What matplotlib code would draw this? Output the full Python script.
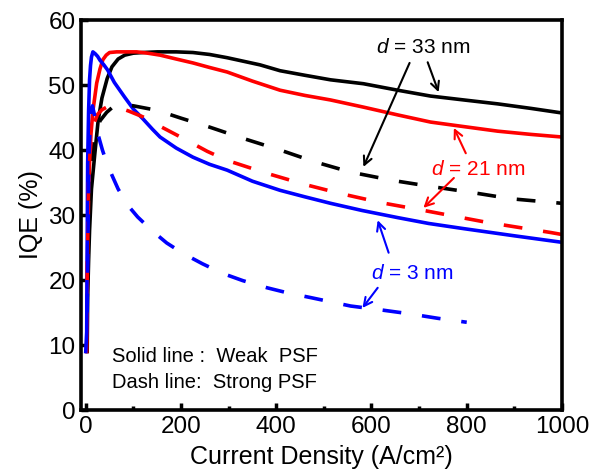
import matplotlib
matplotlib.use("Agg")
import matplotlib.pyplot as plt
from matplotlib.ticker import MultipleLocator

plt.rcParams['font.family'] = ['Liberation Sans', 'DejaVu Sans']
plt.rcParams['mathtext.fontset'] = 'custom'
plt.rcParams['mathtext.it'] = 'Liberation Sans:italic'
plt.rcParams['mathtext.rm'] = 'Liberation Sans'

# d = 33 nm, weak PSF (solid black)
x_33_weak = [3, 4, 6, 8, 12, 19, 26, 34, 45, 55, 68, 82, 100, 120, 150, 190, 225, 260, 297, 366, 408, 460,
             514, 583, 655, 724, 794, 865, 935, 1000]
y_33_weak = [9, 17.3, 23, 27.6, 34, 39.4, 44.5, 48.0, 51.0, 52.8, 54.0, 54.6, 54.9, 55.0, 55.1, 55.1, 55.0, 54.7, 54.2,
             53.1, 52.2, 51.5, 50.8, 50.2, 49.2, 48.3, 47.7, 47.1, 46.4, 45.7]

# d = 21 nm, weak PSF (solid red)
x_21_weak = [2, 4, 6, 8, 11, 15, 23, 30, 36, 43, 50, 65, 80, 107, 130, 156, 190, 225, 260, 297, 350, 408, 460,
             514, 583, 655, 724, 794, 865, 935, 1000]
y_21_weak = [9, 25, 33, 38, 42.5, 46, 50.3, 52.5, 53.9, 54.6, 55.0, 55.1, 55.1, 55.1, 54.9, 54.6, 54.0, 53.4,
             52.7, 52.0, 50.6, 49.2, 48.4, 47.7, 46.6, 45.4, 44.3, 43.6, 42.9, 42.4, 42.0]

# d = 3 nm, weak PSF (solid blue)
x_3_weak = [0, 2, 3, 4, 6, 8, 10, 12, 15, 20, 25, 30, 38, 46, 60, 82, 100, 120, 140, 156, 190, 225, 260, 297,
            350, 408, 460, 514, 580, 655, 720, 794, 900, 1000]
y_3_weak = [9, 12, 25, 37.9, 46, 50.8, 53.0, 54.3, 55.1, 54.8, 54.4, 53.8, 53.1, 52.3, 50.4, 48.1, 46.3, 44.8,
            43.2, 42.0, 40.3, 38.9, 37.8, 36.9, 35.2, 33.8, 32.8, 31.8, 30.7, 29.6, 28.7, 27.9, 26.8, 25.8]

# d = 33 nm, strong PSF (dashed black)
x_33_strong = [4, 8, 15, 22, 30, 44, 55, 67, 80, 100, 150, 200, 261, 330, 408, 480, 556, 646, 724, 808, 893, 1000]
y_33_strong = [20, 33, 40, 42.8, 44.5, 45.8, 46.5, 46.9, 47.0, 46.8, 46.1, 44.9, 43.5, 41.8, 40.0, 38.2, 36.6,
               35.3, 34.4, 33.5, 32.5, 31.8]

# d = 21 nm, strong PSF (dashed red)
x_21_strong = [3, 6, 9, 12, 18, 25, 34, 44, 56, 70, 90, 120, 160, 212, 255, 297, 381, 460, 535, 620, 710, 840,
               977, 1000]
y_21_strong = [20, 35, 39.5, 42, 44.2, 45.5, 46.2, 46.6, 46.7, 46.5, 46.0, 45.1, 43.5, 41.5, 39.8, 38.4, 36.4,
               34.7, 33.3, 31.9, 30.7, 28.9, 27.3, 27.0]

# d = 3 nm, strong PSF (dashed blue)
x_3_strong = [3, 6, 8, 10, 12, 14, 18, 25, 35, 45, 57, 68, 80, 94, 109, 139, 170, 204, 245, 288, 330, 381,
              425, 472, 556, 620, 680, 740, 800]
y_3_strong = [15, 35, 41.5, 45, 46.3, 46.8, 45.5, 42.6, 40.0, 37.8, 35.8, 34.0, 32.5, 31.0, 29.7, 27.6, 25.7,
              24.1, 22.5, 21.0, 19.9, 18.8, 18.0, 17.3, 16.0, 15.4, 14.8, 14.1, 13.5]

x_ticks = [0, 200, 400, 600, 800, 1000]
y_ticks = [0, 10, 20, 30, 40, 50, 60]

fig = plt.figure(figsize=(5.92, 4.71), dpi=100)
ax = fig.add_axes([0.1368, 0.1295, 0.8125, 0.828])

lw = 2.6
dash = (5.2, 5.8)  # scaled by linewidth
ax.plot(x_33_weak, y_33_weak, color='black', lw=lw, solid_joinstyle='round')
ax.plot(x_21_weak, y_21_weak, color='red', lw=lw, solid_joinstyle='round')
ax.plot(x_3_weak, y_3_weak, color='blue', lw=lw, solid_joinstyle='round')
ax.plot(x_33_strong, y_33_strong, color='black', lw=lw, dashes=dash)
ax.plot(x_21_strong, y_21_strong, color='red', lw=lw, dashes=dash)
ax.plot(x_3_strong, y_3_strong, color='blue', lw=lw, dashes=dash)

ax.set_xlim(-10, 1000)
ax.set_ylim(0, 60)
ax.set_xticks(x_ticks)
ax.set_yticks(y_ticks)
ax.xaxis.set_minor_locator(MultipleLocator(100))
ax.tick_params(which='major', direction='in', length=5, width=2.5, labelsize=17.5, pad=4)
ax.tick_params(which='minor', direction='in', length=3, width=2.5)
for sp in ax.spines.values():
    sp.set_linewidth(2.6)

ax.set_xlabel('Current Density (A/cm²)', fontsize=18, labelpad=5)
ax.set_ylabel('IQE (%)', fontsize=18, labelpad=4)

arrow = dict(arrowstyle='->,head_length=0.6,head_width=0.3', lw=1.5, shrinkA=0, shrinkB=0)

ax.text(709, 55.7, r'$d$ = 33 nm', color='black', fontsize=15, ha='center', va='center')
ax.annotate('', xy=(741, 48.9), xytext=(718, 53.5), arrowprops=dict(arrow, color='black'))
ax.annotate('', xy=(583, 37.4), xytext=(680, 53.4), arrowprops=dict(arrow, color='black'))

ax.text(823, 37.0, r'$d$ = 21 nm', color='red', fontsize=15, ha='center', va='center')
ax.annotate('', xy=(773, 43.4), xytext=(798, 39.5), arrowprops=dict(arrow, color='red'))
ax.annotate('', xy=(709, 31.1), xytext=(773, 35.7), arrowprops=dict(arrow, color='red'))

ax.text(686, 21.0, r'$d$ = 3 nm', color='blue', fontsize=15, ha='center', va='center')
ax.annotate('', xy=(613, 29.2), xytext=(636, 24.2), arrowprops=dict(arrow, color='blue'))
ax.annotate('', xy=(581, 15.7), xytext=(613, 18.8), arrowprops=dict(arrow, color='blue'))

ax.text(55, 8.2, 'Solid line :  Weak  PSF', fontsize=14.5, ha='left', va='center')
ax.text(55, 4.2, 'Dash line:  Strong PSF', fontsize=14.5, ha='left', va='center')

fig.savefig('out.png', dpi=100)
